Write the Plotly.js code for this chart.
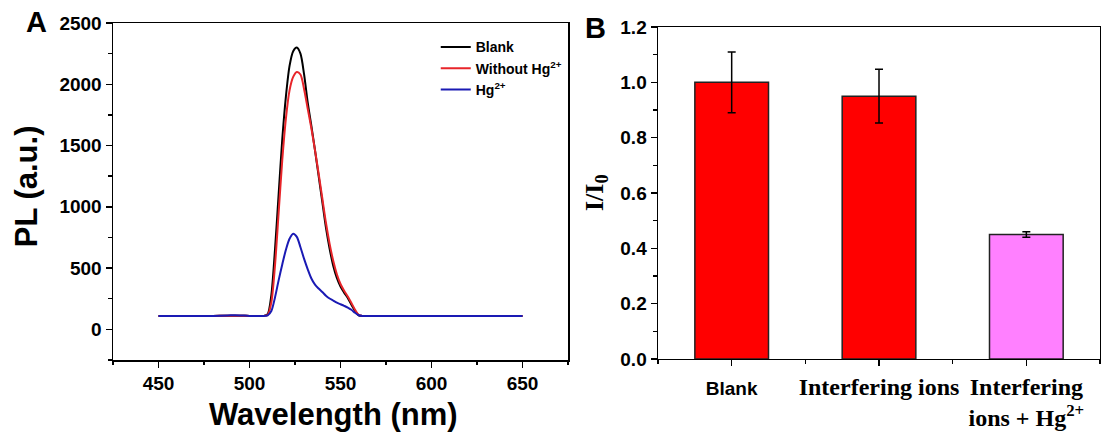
<!DOCTYPE html>
<html>
<head>
<meta charset="utf-8">
<script src="https://cdn.plot.ly/plotly-3.0.1.min.js"></script>
<style>
html,body{margin:0;padding:0;background:#fff;}
#chart{width:1101px;height:434px;}
</style>
</head>
<body>
<div id="chart"></div>
<script>
// ---- Panel A: PL spectra ----
const wavelength = [450,460,470,480,488,492,496,500,505,508,
  510,512,514,516,518,520,522,524,526,528,530,532,534,536,538,540,542,544,546,548,550,552,554,556,558,560,562,
  570,580,590,600,610,620,630,640,650];
const plBlank = [110,110,110,110,111,112,111,110,110,110,
  125,280,650,1100,1550,1900,2150,2270,2300,2250,2080,1850,1660,1460,1250,1040,830,660,520,420,350,300,255,200,150,115,110,
  110,110,110,110,110,110,110,110,110];
const plWithout = [110,110,110,110,111,112,111,110,110,110,
  118,220,520,950,1380,1720,1950,2060,2100,2080,1960,1800,1640,1460,1270,1070,870,700,560,450,370,315,268,215,160,118,110,
  110,110,110,110,110,110,110,110,110];
const plHg = [110,110,110,110,113,116,113,110,110,110,
  115,150,260,400,530,650,740,780,755,670,575,490,415,365,333,305,275,252,235,218,205,192,178,160,135,115,110,
  110,110,110,110,110,110,110,110,110];
const seriesNames = ['Blank', 'Without Hg<sup>2+</sup>', 'Hg<sup>2+</sup>'];
const seriesColors = ['#000000', '#e8252a', '#1a1ab4'];

// ---- Panel B: relative intensity ----
const categories = ['Blank', 'Interfering ions', 'Interfering ions + Hg2+'];
const ratio = [1.0, 0.95, 0.45];
const ratioErr = [0.11, 0.097, 0.01];
const barColors = ['#ff0000', '#ff0000', '#ff80ff'];
const catTickText = [
  '<span style="font-family:Liberation Sans, Arial, sans-serif;font-size:19px">Blank</span>',
  'Interfering ions',
  'Interfering<br>ions + Hg<sup>2+</sup>'
];

const sans = 'Liberation Sans, Arial, sans-serif';
const serif = 'Liberation Serif, Times New Roman, serif';

const specSeries = [plBlank, plWithout, plHg];
const traces = specSeries.map((ys, i) => ({
  type: 'scatter', mode: 'lines',
  x: wavelength, y: ys,
  name: seriesNames[i],
  line: {color: seriesColors[i], width: 2, shape: 'spline', smoothing: 0.8},
  xaxis: 'x', yaxis: 'y'
}));

traces.push({
  type: 'bar',
  x: categories.map((c, i) => i),
  y: ratio,
  width: 0.5,
  marker: {color: barColors, line: {color: '#222', width: 1.5}},
  error_y: {type: 'data', array: ratioErr, visible: true, color: '#000', thickness: 1.5, width: 4},
  showlegend: false,
  xaxis: 'x2', yaxis: 'y2'
});

const axLine = {showline: true, linecolor: '#000', linewidth: 1.5, mirror: true,
  ticks: 'outside', ticklen: 6, tickwidth: 1.5, tickcolor: '#000',
  showgrid: false, zeroline: false, automargin: false};

const tickFont = {family: sans, size: 19, color: '#000', weight: 'bold'};

const layout = {
  width: 1101, height: 434,
  margin: {l: 113, r: 1, t: 23, b: 74},
  paper_bgcolor: '#fff', plot_bgcolor: '#fff',
  showlegend: true,
  legend: {x: 0.327, y: 0.975, xanchor: 'left', yanchor: 'top',
    font: {family: sans, size: 14, color: '#000', weight: 'bold'},
    bgcolor: 'rgba(0,0,0,0)', tracegroupgap: 0},
  xaxis: Object.assign({}, axLine, {
    domain: [0, 0.461], range: [425, 675], dtick: 50, tick0: 450,
    tickfont: tickFont, tickprefix: '<b>', ticksuffix: '</b>',
    minor: {dtick: 25, tick0: 425, ticks: 'outside', ticklen: 3.5, tickwidth: 1.5, tickcolor: '#000'}
  }),
  yaxis: Object.assign({}, axLine, {
    domain: [0, 1], range: [-250, 2500], dtick: 500, tick0: 0,
    tickfont: tickFont, tickprefix: '<b>', ticksuffix: '</b>',
    minor: {dtick: 250, tick0: 0, ticks: 'outside', ticklen: 3.5, tickwidth: 1.5, tickcolor: '#000'}
  }),
  xaxis2: Object.assign({}, axLine, {
    domain: [0.5522, 1], range: [-0.5, 2.5], anchor: 'y2',
    tickmode: 'array', tickvals: categories.map((c, i) => i), ticktext: catTickText,
    tickfont: {family: serif, size: 24, color: '#000', weight: 'bold'},
    minor: {dtick: 0.5, tick0: -0.5, ticks: 'outside', ticklen: 3.5, tickwidth: 1.5, tickcolor: '#000'}
  }),
  yaxis2: Object.assign({}, axLine, {
    domain: [0.003, 0.988], range: [0, 1.2], dtick: 0.2, tick0: 0, anchor: 'x2',
    tickformat: '.1f', tickfont: tickFont, tickprefix: '<b>', ticksuffix: '</b>',
    minor: {dtick: 0.1, tick0: 0, ticks: 'outside', ticklen: 3.5, tickwidth: 1.5, tickcolor: '#000'}
  }),
  annotations: [
    {text: 'A', xref: 'paper', yref: 'paper', x: -0.078, y: 1.003, xanchor: 'center', yanchor: 'middle',
      showarrow: false, font: {family: sans, size: 29, color: '#000', weight: 'bold'}},
    {text: 'B', xref: 'paper', yref: 'paper', x: 0.4884, y: 0.9866, xanchor: 'center', yanchor: 'middle',
      showarrow: false, font: {family: sans, size: 29, color: '#000', weight: 'bold'}},
    {text: 'Wavelength (nm)', xref: 'paper', yref: 'paper', x: 0.2239, y: -0.163, xanchor: 'center', yanchor: 'middle',
      showarrow: false, font: {family: sans, size: 31, color: '#000', weight: 'bold'}},
    {text: 'PL (a.u.)', xref: 'paper', yref: 'paper', x: -0.088, y: 0.516, xanchor: 'center', yanchor: 'middle',
      textangle: -90, showarrow: false, font: {family: sans, size: 31, color: '#000', weight: 'bold'}},
    {text: 'I/I<sub>0</sub>', xref: 'paper', yref: 'paper', x: 0.4894, y: 0.4955, xanchor: 'center', yanchor: 'middle',
      textangle: -90, showarrow: false, font: {family: serif, size: 26, color: '#000', weight: 'bold'}}
  ]
};

Plotly.newPlot('chart', traces, layout, {displayModeBar: false, staticPlot: true});
</script>
</body>
</html>
